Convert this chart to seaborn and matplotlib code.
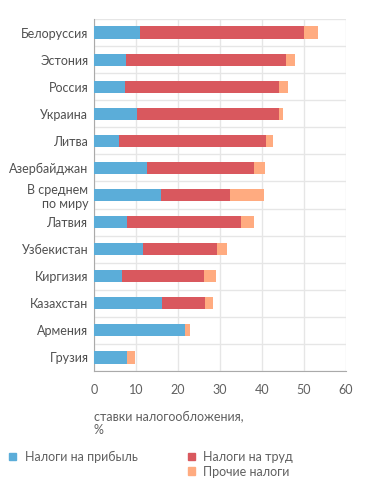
import matplotlib
matplotlib.use("Agg")
import matplotlib.pyplot as plt
import seaborn as sns
import pandas as pd
import numpy as np
from matplotlib.patches import Patch

# данные (ставки налогообложения, %)
countries = ["Белоруссия", "Эстония", "Россия", "Украина", "Литва", "Азербайджан",
             "В среднем\nпо миру", "Латвия", "Узбекистан", "Киргизия", "Казахстан",
             "Армения", "Грузия"]
profit = [11.0, 7.6, 7.3, 10.2, 5.9, 12.6, 16.0, 7.8, 11.7, 6.6, 16.3, 21.7, 7.8]
labour = [39.1, 38.1, 36.7, 33.8, 35.1, 25.5, 16.4, 27.2, 17.5, 19.5, 10.1, 0.0, 0.0]
other = [3.2, 2.1, 2.1, 1.1, 1.6, 2.5, 8.1, 3.1, 2.5, 2.9, 1.9, 1.1, 2.0]
xticks = [0, 10, 20, 30, 40, 50, 60]

c_profit = "#5badd9"
c_labour = "#d9585e"
c_other = "#ffab80"

df = pd.DataFrame({"country": countries, "profit": profit, "labour": labour, "other": other})
df["s1"] = df["profit"]
df["s2"] = df["profit"] + df["labour"]
df["s3"] = df["s2"] + df["other"]

sns.set_style("white")
plt.rcParams["font.family"] = ["Lato", "DejaVu Sans"]

fig = plt.figure(figsize=(3.71, 4.93), dpi=100)
ax = fig.add_axes([94 / 371, 1 - 371 / 493, 252 / 371, 352 / 493])

# слои: сначала сумма, потом поверх частичные суммы
sns.barplot(data=df, x="s3", y="country", orient="h", color=c_other, width=0.45,
            saturation=1, ax=ax, zorder=3)
sns.barplot(data=df, x="s2", y="country", orient="h", color=c_labour, width=0.45,
            saturation=1, ax=ax, zorder=3)
sns.barplot(data=df, x="s1", y="country", orient="h", color=c_profit, width=0.45,
            saturation=1, ax=ax, zorder=3)
for p in ax.patches:
    p.set_linewidth(0)

ax.set_xlim(0, 60)
ax.set_ylim(len(countries) - 0.5, -0.5)
ax.set_xticks(xticks)
ax.set_yticks(np.arange(-0.5, len(countries), 1), minor=True)
ax.grid(True, axis="x", color="#e6e6e6", lw=1, zorder=0)
ax.grid(True, axis="y", which="minor", color="#e6e6e6", lw=1, zorder=0)
ax.tick_params(axis="y", which="both", length=0, labelsize=9, colors="#505050", pad=4)
ax.tick_params(axis="x", length=4, width=1, color="#aaaaaa", labelsize=9,
               labelcolor="#606060", pad=5, direction="out")
for s in ["top", "right"]:
    ax.spines[s].set_visible(False)
ax.spines["left"].set_color("#aaaaaa")
ax.spines["bottom"].set_color("#aaaaaa")
ax.set_xlabel("")
ax.set_ylabel("")

fig.text(94 / 371, 1 - 423 / 493, "ставки налогообложения,\n%", fontsize=9,
         color="#606060", va="center", ha="left", linespacing=1.25)

handles = [Patch(color=c_profit), Patch(color="none"), Patch(color=c_labour), Patch(color=c_other)]
labels = ["Налоги на прибыль", "", "Налоги на труд", "Прочие налоги"]
fig.legend(handles, labels, ncol=2, loc="upper left", bbox_to_anchor=(0.025, 1 - 451 / 493),
           frameon=False, fontsize=9, handlelength=0.55, handleheight=0.55,
           handletextpad=0.7, columnspacing=4.0, labelspacing=0.2, labelcolor="#606060",
           borderaxespad=0, borderpad=0)

fig.savefig("out.png", dpi=100)
